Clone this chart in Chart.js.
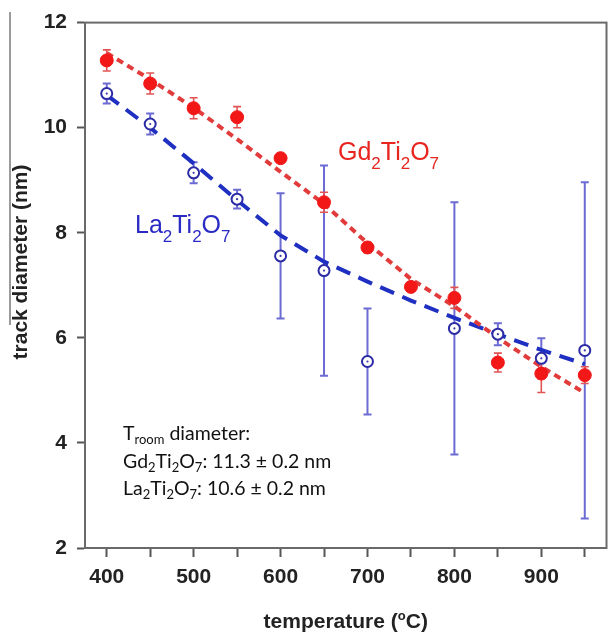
<!DOCTYPE html>
<html><head><meta charset="utf-8">
<script src="https://cdn.jsdelivr.net/npm/chart.js@4/dist/chart.umd.min.js"></script>
<style>html,body{margin:0;padding:0;background:#fff}canvas{display:block}</style>
</head><body>
<canvas id="c" width="614" height="632"></canvas>
<script>
// ---- data ----
const temperaturesGd = [400, 450, 500, 550, 600, 650, 700, 750, 800, 850, 900, 950];
const diameterGd     = [11.28, 10.84, 10.37, 10.20, 9.42, 8.58, 7.72, 6.97, 6.76, 5.53, 5.32, 5.29];
const errorGd        = [0.20, 0.20, 0.20, 0.20, 0.05, 0.19, 0.10, 0.05, 0.20, 0.18, 0.36, 0.16];

const temperaturesLa = [400, 450, 500, 550, 600, 650, 700, 800, 850, 900, 950];
const diameterLa     = [10.65, 10.07, 9.14, 8.64, 7.56, 7.28, 5.55, 6.18, 6.07, 5.61, 5.76];
const errorLa        = [0.19, 0.20, 0.20, 0.18, 1.19, 2.00, 1.01, 2.40, 0.21, 0.38, 3.20];

const fitTemps = [400, 450, 500, 550, 600, 650, 700, 750, 800, 850, 900, 950];
const fitGd    = [11.42, 10.92, 10.38, 9.78, 9.16, 8.55, 7.80, 7.12, 6.60, 6.00, 5.45, 4.95];
const fitLa    = [10.62, 10.00, 9.32, 8.62, 7.95, 7.45, 7.07, 6.71, 6.38, 6.07, 5.77, 5.50];

const xTickValues = [400, 450, 500, 550, 600, 650, 700, 750, 800, 850, 900, 950];
const xTickLabels = ['400', '', '500', '', '600', '', '700', '', '800', '', '900', ''];
const yTickValues = [2, 4, 6, 8, 10, 12];
const yTickLabels = ['2', '4', '6', '8', '10', '12'];

const xTitle = ['temperature (', 'o', 'C)'];
const yTitle = 'track diameter (nm)';
const labelGd = [['Gd', 0], ['2', 1], ['Ti', 0], ['2', 1], ['O', 0], ['7', 1]];
const labelLa = [['La', 0], ['2', 1], ['Ti', 0], ['2', 1], ['O', 0], ['7', 1]];
const noteLines = [
  [['T', 0], ['room', 1], [' diameter:', 0]],
  [['Gd', 0], ['2', 1], ['Ti', 0], ['2', 1], ['O', 0], ['7', 1], [': 11.3 \u00b1 0.2 nm', 0]],
  [['La', 0], ['2', 1], ['Ti', 0], ['2', 1], ['O', 0], ['7', 1], [': 10.6 \u00b1 0.2 nm', 0]]
];

// ---- helpers ----
const pts = (xs, ys) => xs.map((x, i) => ({ x: x, y: ys[i] }));
const BOLD = 'bold 21px "Liberation Sans", Arial, sans-serif';

function drawRich(ctx, parts, x, y, mainFont, subFont, shift) {
  let cx = x;
  ctx.textAlign = 'left';
  ctx.textBaseline = 'alphabetic';
  for (const [t, s] of parts) {
    ctx.font = s ? subFont : mainFont;
    ctx.fillText(t, cx, s ? y + shift : y);
    cx += ctx.measureText(t).width;
  }
}

const errorBarPlugin = {
  id: 'errbars',
  beforeDatasetsDraw(chart) {
    const ctx = chart.ctx, xs = chart.scales.x, ys = chart.scales.y;
    const sets = [
      { t: temperaturesLa, v: diameterLa, e: errorLa, c: '#6b6bd3', w: 2 },
      { t: temperaturesGd, v: diameterGd, e: errorGd, c: '#e25454', w: 1.6 }
    ];
    ctx.save();
    for (const s of sets) {
      ctx.strokeStyle = s.c; ctx.lineWidth = s.w;
      s.t.forEach((t, i) => {
        const px = xs.getPixelForValue(t);
        const y1 = ys.getPixelForValue(s.v[i] + s.e[i]);
        const y2 = ys.getPixelForValue(s.v[i] - s.e[i]);
        ctx.beginPath();
        ctx.moveTo(px, y1); ctx.lineTo(px, y2);
        ctx.moveTo(px - 4, y1); ctx.lineTo(px + 4, y1);
        ctx.moveTo(px - 4, y2); ctx.lineTo(px + 4, y2);
        ctx.stroke();
      });
    }
    ctx.restore();
  },
  afterDatasetsDraw(chart) {
    const ctx = chart.ctx;
    const meta = chart.getDatasetMeta(3);
    ctx.save();
    ctx.fillStyle = '#3a3aa8';
    meta.data.forEach(p => { ctx.beginPath(); ctx.arc(p.x, p.y, 1.1, 0, Math.PI * 2); ctx.fill(); });
    ctx.restore();
  }
};

const decorPlugin = {
  id: 'decor',
  afterDraw(chart) {
    const ctx = chart.ctx, a = chart.chartArea;
    ctx.save();
    // frame
    ctx.strokeStyle = '#6a6a6a'; ctx.lineWidth = 2;
    ctx.strokeRect(a.left, a.top, a.right - a.left, a.bottom - a.top);
    // stray vertical line at far left
    ctx.strokeStyle = '#7a7a7a'; ctx.lineWidth = 1.5;
    ctx.beginPath(); ctx.moveTo(10, 12); ctx.lineTo(10, 325); ctx.stroke();

    ctx.fillStyle = '#222';
    // y title
    ctx.save();
    ctx.translate(21, 262); ctx.rotate(-Math.PI / 2);
    ctx.font = BOLD; ctx.textAlign = 'center'; ctx.textBaseline = 'middle';
    ctx.fillText(yTitle, 0, 0);
    ctx.restore();
    // x title with superscript
    const supFont = 'bold 13px "Liberation Sans", Arial, sans-serif';
    ctx.font = BOLD;
    const w0 = ctx.measureText(xTitle[0]).width, w2 = ctx.measureText(xTitle[2]).width;
    ctx.font = supFont;
    const w1 = ctx.measureText(xTitle[1]).width;
    let sx = (a.left + a.right) / 2 - (w0 + w1 + w2) / 2;
    const by = 628;
    ctx.textAlign = 'left'; ctx.textBaseline = 'alphabetic';
    ctx.font = BOLD; ctx.fillText(xTitle[0], sx, by); sx += w0;
    ctx.font = supFont; ctx.fillText(xTitle[1], sx, by - 8); sx += w1;
    ctx.font = BOLD; ctx.fillText(xTitle[2], sx, by);

    // series labels
    ctx.fillStyle = '#e8251f';
    drawRich(ctx, labelGd, 338, 160, '25px "Liberation Sans", Arial, sans-serif', '17px "Liberation Sans", Arial, sans-serif', 9);
    ctx.fillStyle = '#2a2ac4';
    drawRich(ctx, labelLa, 135, 233, '25px "Liberation Sans", Arial, sans-serif', '17px "Liberation Sans", Arial, sans-serif', 9);

    // note
    ctx.fillStyle = '#111';
    const nb = [440, 468, 495];
    noteLines.forEach((ln, i) => drawRich(ctx, ln, 123, nb[i], '19.5px Lato, sans-serif', '13px Lato, sans-serif', 4));
    ctx.restore();
  }
};

new Chart(document.getElementById('c'), {
  type: 'scatter',
  data: {
    datasets: [
      { data: pts(fitTemps, fitGd), showLine: true, borderColor: '#e23b3b', borderWidth: 4, borderDash: [7, 5], pointRadius: 0, order: 3 },
      { data: pts(fitTemps, fitLa), showLine: true, borderColor: '#1f2fc2', borderWidth: 4, borderDash: [15, 9], pointRadius: 0, order: 3 },
      { data: pts(temperaturesGd, diameterGd), backgroundColor: '#f21818', borderColor: '#f21818', borderWidth: 1, pointRadius: 6.5, order: 1 },
      { data: pts(temperaturesLa, diameterLa), backgroundColor: '#ffffff', borderColor: '#2b2ba6', borderWidth: 2, pointRadius: 5.5, order: 0 }
    ]
  },
  options: {
    responsive: false,
    animation: false,
    devicePixelRatio: 1,
    layout: { padding: { top: 21, right: 1, left: 0, bottom: 0 } },
    plugins: { legend: { display: false }, tooltip: { enabled: false } },
    scales: {
      x: {
        type: 'linear', min: 375, max: 975,
        afterBuildTicks: s => { s.ticks = xTickValues.map(v => ({ value: v })); },
        afterFit: s => { s.height = 84; },
        grid: { drawOnChartArea: false, drawTicks: true, tickLength: 9, tickColor: '#555', tickWidth: 2 },
        border: { display: true, color: '#555', width: 2 },
        ticks: { callback: (v, i) => xTickLabels[i], font: { family: '"Liberation Sans", Arial, sans-serif', size: 21, weight: 'bold' }, color: '#222', padding: 8, maxRotation: 0, autoSkip: false }
      },
      y: {
        type: 'linear', min: 2, max: 12,
        afterBuildTicks: s => { s.ticks = yTickValues.map(v => ({ value: v })); },
        afterFit: s => { s.width = 85; },
        grid: { drawOnChartArea: false, drawTicks: true, tickLength: 8, tickColor: '#555', tickWidth: 2 },
        border: { display: true, color: '#555', width: 2 },
        ticks: { callback: (v, i) => yTickLabels[i], font: { family: '"Liberation Sans", Arial, sans-serif', size: 21, weight: 'bold' }, color: '#222', padding: 10 }
      }
    }
  },
  plugins: [errorBarPlugin, decorPlugin]
});
</script>
</body></html>
